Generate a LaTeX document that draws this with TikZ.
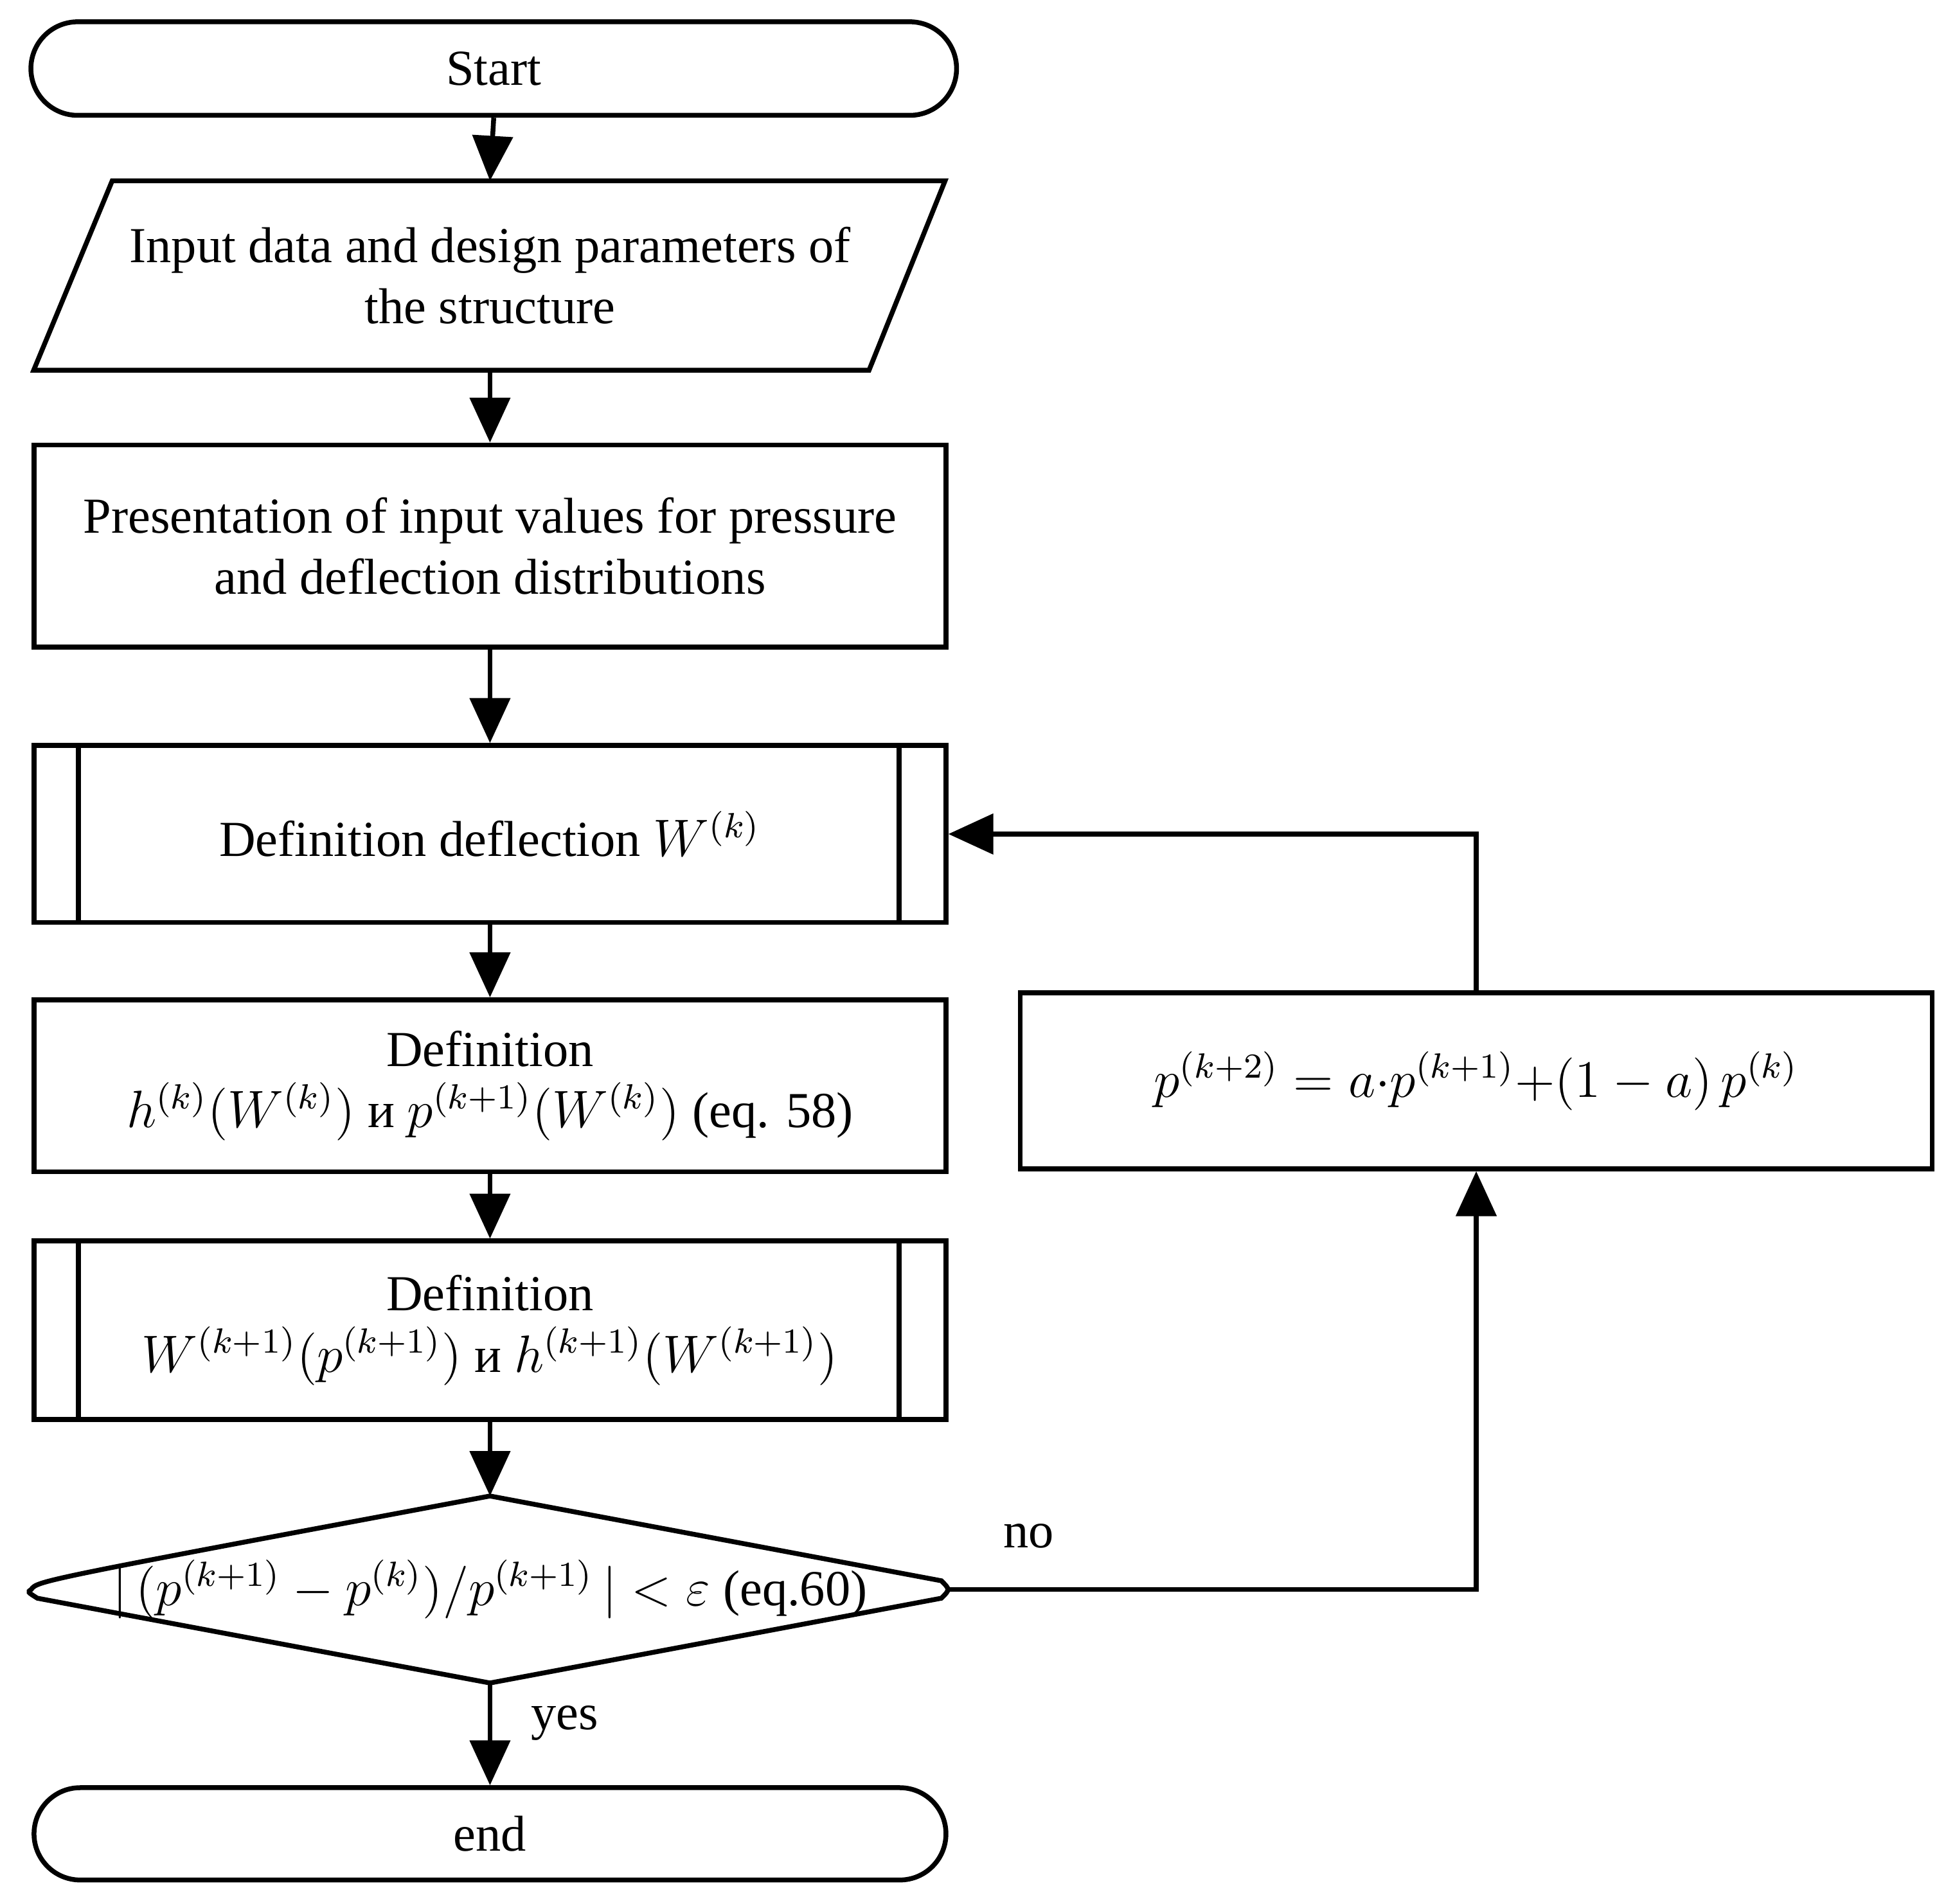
\documentclass[tikz,border=0pt]{standalone}
\usepackage{fontspec}
\setmainfont{Liberation Serif}
\usetikzlibrary{arrows.meta,shapes.misc}
\begin{document}
\begin{tikzpicture}[x=0.01cm,y=-0.01cm,
  every node/.style={font=\fontsize{11.5}{14}\selectfont,align=center},
  box/.style={draw,line width=1.1pt,minimum width=7.31cm,inner sep=0pt},
  lw/.style={line width=1.1pt},
  arr/.style={lw,-{Triangle[length=0.36cm,width=0.32cm]}}]
\useasboundingbox (0,0) rectangle (1568,1527);
\node[box,rounded rectangle,minimum width=7.42cm,minimum height=0.75cm] (start) at (396,55) {Start};
\draw[lw] (90,145)--(758,145)--(697,297)--(27,297)--cycle;
\node (inp) at (393,221) {Input data and design parameters of\\the structure};
\coordinate (inpT) at (393,145); \coordinate (inpB) at (393,297);
\node[box,minimum height=1.62cm] (pres) at (393,438) {Presentation of input values for pressure\\and deflection distributions};
\node[box,minimum height=1.42cm] (defw) at (393,669) {Definition deflection $W^{(k)}$};
\draw[lw] (63,598)--(63,740) (721,598)--(721,740);
\node[box,minimum height=1.38cm] (defh) at (393,871) {Definition\\$h^{(k)}(W^{(k)})$ и $p^{(k+1)}(W^{(k)})$ (eq. 58)};
\node[box,minimum height=1.43cm] (defw2) at (393,1067) {Definition\\$W^{(k+1)}(p^{(k+1)})$ и $h^{(k+1)}(W^{(k+1)})$};
\draw[lw] (63,996)--(63,1139) (721,996)--(721,1139);
\draw[lw] (25,1275) .. controls (30,1268) .. (393,1200) -- (755,1268) .. controls (762,1275) .. (755,1282) -- (393,1350) -- (30,1282) .. controls (22,1277) .. cycle;
\node (dec) at (393,1275) {$|\,(p^{(k+1)}-p^{(k)})/p^{(k+1)}\,|<\varepsilon$ (eq.60)};
\coordinate (decT) at (393,1200); \coordinate (decB) at (393,1350); \coordinate (decR) at (760,1275);
\node[box,rounded rectangle,minimum width=7.31cm,minimum height=0.74cm] (end) at (393,1471) {end};
\node[box,minimum height=1.41cm] (upd) at (1184,867) {$p^{(k+2)}=a{\cdot}p^{(k+1)}{+}(1-a)\,p^{(k)}$};
\draw[arr] (start.south) -- (inpT);
\draw[arr] (inpB) -- (pres.north);
\draw[arr] (pres.south) -- (defw.north);
\draw[arr] (defw.south) -- (defh.north);
\draw[arr] (defh.south) -- (defw2.north);
\draw[arr] (defw2.south) -- (decT);
\draw[arr] (decB) -- (end.north);
\draw[arr] (decR) -| (upd.south);
\draw[arr] (upd.north) |- (defw.east);
\node (no) at (825,1232) {no};
\node (yes) at (453,1382) {yes};
\end{tikzpicture}
\end{document}
